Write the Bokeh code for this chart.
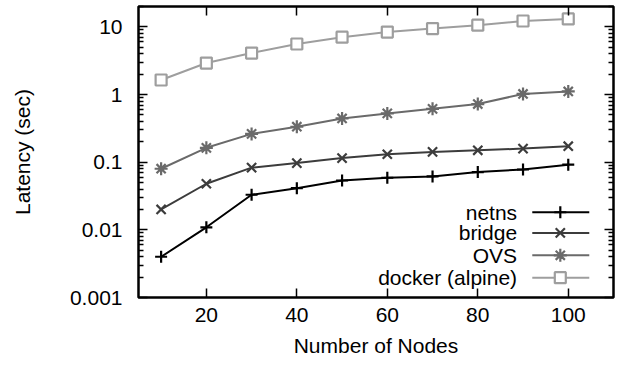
import math
from bokeh.plotting import figure
from bokeh.models import (Range1d, FixedTicker, LinearAxis, LogAxis,
                          CustomJSTickFormatter, CustomLabelingPolicy)
from bokeh.core.properties import value
from bokeh.embed import file_html
from bokeh.resources import INLINE

# ---- data ----
nodes = [10, 20, 30, 40, 50, 60, 70, 80, 90, 100]
netns = [0.0040, 0.0109, 0.033, 0.0413, 0.0536, 0.0589, 0.0615, 0.0715, 0.078, 0.092]
bridge = [0.020, 0.048, 0.083, 0.097, 0.115, 0.131, 0.142, 0.150, 0.159, 0.172]
ovs = [0.080, 0.163, 0.262, 0.334, 0.443, 0.526, 0.614, 0.723, 1.02, 1.11]
docker = [1.64, 2.92, 4.10, 5.58, 7.03, 8.38, 9.44, 10.6, 12.2, 13.1]

series_names = ["netns", "bridge", "OVS", "docker (alpine)"]
x_ticks = [20, 40, 60, 80, 100]
x_tick_labels = ["20", "40", "60", "80", "100"]
y_ticks = [0.001, 0.01, 0.1, 1, 10]
y_tick_labels = ["0.001", "0.01", "0.1", "1", "10"]
y_minor = [m * 10.0 ** k for k in range(-3, 2) for m in range(2, 10)]

FONT = "Liberation Sans"
FS = "21px"
X0, X1 = 5, 110
Y0, Y1 = 0.001, 20

p = figure(frame_width=475, frame_height=291,
           x_range=Range1d(X0, X1), y_range=Range1d(Y0, Y1),
           y_axis_type="log", output_backend="svg", toolbar_location=None,
           min_border_left=138, min_border_right=6, min_border_top=6,
           min_border_bottom=0)
p.background_fill_color = "white"
p.border_fill_color = "white"
p.grid.visible = False
p.outline_line_color = "black"
p.outline_line_width = 2.5
p.outline_line_alpha = 1.0

xfmt = CustomJSTickFormatter(args=dict(tvals=x_ticks, tlabels=x_tick_labels), code="""
const i = tvals.findIndex(t => Math.abs(t - tick) < 1e-6);
return i >= 0 ? tlabels[i] : "";
""")
yfmt = CustomJSTickFormatter(args=dict(tvals=y_ticks, tlabels=y_tick_labels), code="""
const i = tvals.findIndex(t => Math.abs(Math.log10(t) - Math.log10(tick)) < 1e-6);
return i >= 0 ? tlabels[i] : "";
""")
blank_fmt = CustomJSTickFormatter(code="return '';")
no_labels = CustomLabelingPolicy(code="""
for (const i of indices) indices.unset(i);
return indices;
""")


def style_axis(ax, show_labels):
    ax.axis_line_color = None
    ax.major_tick_in = 9
    ax.major_tick_out = 0
    ax.minor_tick_in = 5
    ax.minor_tick_out = 0
    ax.major_tick_line_width = 1.5
    ax.minor_tick_line_width = 1.5
    ax.major_tick_line_color = "black"
    ax.minor_tick_line_color = "black"
    if show_labels:
        ax.major_label_text_font = FONT
        ax.major_label_text_font_size = FS
        ax.major_label_text_color = "black"
        ax.axis_label_text_font = FONT
        ax.axis_label_text_font_size = FS
        ax.axis_label_text_font_style = "normal"
        ax.axis_label_text_color = "black"
    else:
        ax.formatter = blank_fmt
        ax.major_label_policy = no_labels
        ax.major_label_text_font_size = "1px"
        ax.major_label_standoff = 0
        ax.axis_label = None


xt = FixedTicker(ticks=x_ticks, minor_ticks=[])
yt = FixedTicker(ticks=y_ticks, minor_ticks=y_minor)

p.xaxis.ticker = xt
p.xaxis.formatter = xfmt
p.xaxis.axis_label = "Number of Nodes"
style_axis(p.xaxis[0], True)
p.xaxis.major_label_standoff = 10
p.xaxis.axis_label_standoff = 9

p.yaxis.ticker = yt
p.yaxis.formatter = yfmt
p.yaxis.axis_label = "Latency (sec)"
style_axis(p.yaxis[0], True)
p.yaxis.major_label_standoff = 16
p.yaxis.axis_label_standoff = 33

top = LinearAxis(ticker=FixedTicker(ticks=x_ticks, minor_ticks=[]))
style_axis(top, False)
p.add_layout(top, "above")
right = LogAxis(ticker=FixedTicker(ticks=y_ticks, minor_ticks=y_minor))
style_axis(right, False)
p.add_layout(right, "right")

colors = ["#000000", "#3c3c3c", "#6a6a6a", "#9e9e9e"]
markers = ["cross", "x", "asterisk", "square"]
msizes = [12, 13, 13, 11]
all_series = [netns, bridge, ovs, docker]

for vals, c, m, s in zip(all_series, colors, markers, msizes):
    p.line(nodes, vals, line_color=c, line_width=2)
    p.scatter(nodes, vals, marker=m, size=s, line_color=c, line_width=2.2,
              fill_color="white" if m == "square" else c)

# ---- legend (gnuplot style: right-aligned label, sample to the right) ----
def fx(f):
    return X0 + f * (X1 - X0)


def fy(f):
    return 10 ** (math.log10(Y0) + f * (math.log10(Y1) - math.log10(Y0)))


leg_rows = [0.293, 0.222, 0.145, 0.068]
for name, c, m, s, r in zip(series_names, colors, markers, msizes, leg_rows):
    yy = fy(r)
    p.text(x=[fx(0.797)], y=[yy], text=[name], text_align="right",
           text_baseline="middle", text_font=value(FONT),
           text_font_size=FS, text_color="black")
    p.line([fx(0.829), fx(0.949)], [yy, yy], line_color=c, line_width=2)
    p.scatter([fx(0.888)], [yy], marker=m, size=s, line_color=c, line_width=2.2,
              fill_color="white" if m == "square" else c)

open("out.html", "w").write(file_html(p, INLINE))
